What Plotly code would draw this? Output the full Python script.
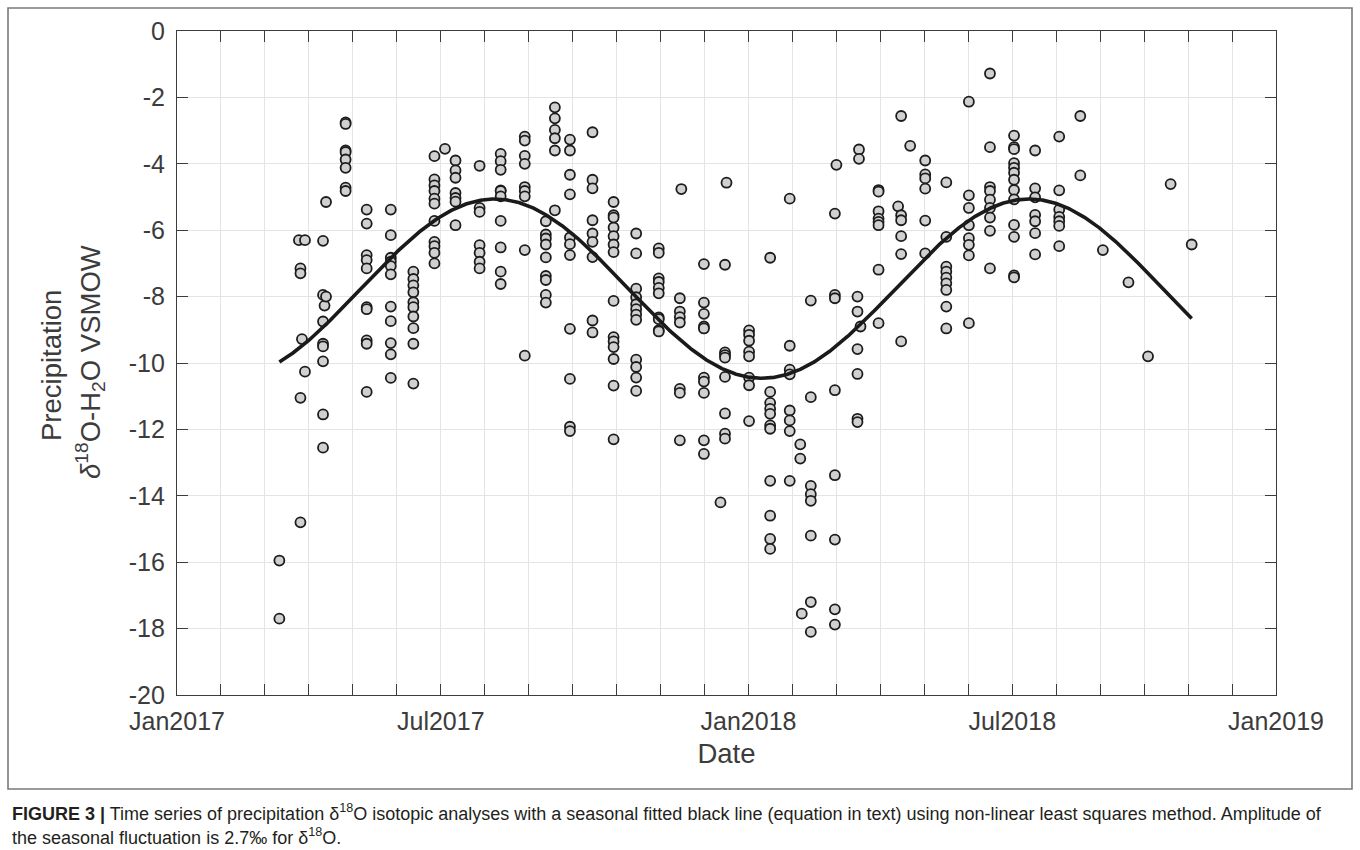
import numpy as np
import pandas as pd
import plotly.graph_objects as go

# Precipitation collection dates and number of samples analysed on each date
collection_date = [
    "2017-03-10", "2017-03-23", "2017-03-24", "2017-03-25", "2017-03-27",
    "2017-04-08", "2017-04-09", "2017-04-10", "2017-04-23", "2017-05-07",
    "2017-05-23", "2017-06-07", "2017-06-21", "2017-06-28", "2017-07-05",
    "2017-07-21", "2017-08-04", "2017-08-20", "2017-09-03", "2017-09-09",
    "2017-09-19", "2017-10-04", "2017-10-18", "2017-11-02", "2017-11-17",
    "2017-12-01", "2017-12-02", "2017-12-17", "2017-12-28", "2017-12-31",
    "2018-01-01", "2018-01-16", "2018-01-30", "2018-02-12", "2018-02-19",
    "2018-02-20", "2018-02-26", "2018-03-14", "2018-03-15", "2018-03-29",
    "2018-03-30", "2018-03-31", "2018-04-12", "2018-04-25", "2018-04-27",
    "2018-05-03", "2018-05-13", "2018-05-27", "2018-06-11", "2018-06-25",
    "2018-07-11", "2018-07-25", "2018-08-10", "2018-08-24", "2018-09-08",
    "2018-09-25", "2018-10-08", "2018-10-23", "2018-11-06",
]
n_samples = [
    2, 1, 4, 1, 2,
    8, 1, 2, 8, 10,
    11, 10, 11, 1, 7,
    7, 10, 9, 9, 6,
    11, 9, 14, 12, 10,
    7, 1, 10, 1, 8,
    1, 8, 11, 8, 2,
    1, 8, 8, 1, 6,
    2, 1, 8, 1, 6,
    1, 6, 9, 8, 9,
    13, 7, 7, 2, 1,
    1, 1, 1, 1,
]

# delta-18O of precipitation (permil VSMOW), in the same order as the dates
d18o = [
    -15.95, -17.7,
    -6.3,
    -7.15, -7.3, -11.05, -14.8,
    -9.28,
    -6.3, -10.26,
    -6.32, -7.95, -8.75, -9.42, -9.5, -9.95, -11.55, -12.55,
    -8.27,
    -5.15, -8.0,
    -2.75, -2.8, -3.6, -3.65, -3.87, -4.12, -4.72, -4.82,
    -5.38, -5.8, -6.75, -6.9, -7.15, -8.32, -8.38, -9.32, -9.42, -10.87,
    -5.38, -6.15, -6.83, -6.95, -7.08, -7.33, -8.3, -8.74, -9.4, -9.74, -10.45,
    -7.25, -7.47, -7.66, -7.87, -8.17, -8.32, -8.6, -8.95, -9.42, -10.62,
    -3.77, -4.47, -4.65, -4.82, -5.05, -5.2, -5.72, -6.35, -6.48, -6.68, -7.0,
    -3.55,
    -3.9, -4.2, -4.42, -4.88, -5.03, -5.14, -5.85,
    -4.06, -5.33, -5.45, -6.45, -6.68, -6.95, -7.15,
    -3.7, -3.92, -4.18, -4.8, -4.82, -4.98, -5.72, -6.52, -7.25, -7.62,
    -3.18, -3.3, -3.76, -4.0, -4.7, -4.82, -4.98, -6.6, -9.78,
    -5.73, -6.13, -6.25, -6.43, -6.82, -7.38, -7.5, -7.95, -8.18,
    -2.3, -2.63, -2.98, -3.23, -3.6, -5.4,
    -3.27, -3.6, -4.33, -4.92, -6.22, -6.42, -6.75, -8.97, -10.48, -11.92, -12.05,
    -3.05, -4.48, -4.74, -5.7, -6.1, -6.35, -6.81, -8.72, -9.08,
    -5.15, -5.55, -5.62, -5.92, -6.18, -6.43, -6.66, -8.13, -9.22, -9.35, -9.52, -9.88, -10.68, -12.3,
    -6.1, -6.7, -7.76, -8.02, -8.23, -8.38, -8.54, -8.7, -9.9, -10.12, -10.44, -10.84,
    -6.55, -6.68, -7.45, -7.56, -7.74, -7.9, -8.63, -8.68, -9.01, -9.05,
    -8.05, -8.45, -8.62, -8.78, -10.78, -10.9, -12.33,
    -4.76,
    -7.02, -8.18, -8.52, -8.9, -8.96, -10.44, -10.56, -10.9, -12.33, -12.74,
    -14.2,
    -7.04, -9.68, -9.76, -9.84, -10.42, -11.52, -12.13, -12.28,
    -4.57,
    -9.02, -9.15, -9.33, -9.66, -9.8, -10.44, -10.67, -11.75,
    -6.83, -10.87, -11.2, -11.38, -11.53, -11.88, -11.98, -13.55, -14.6, -15.3, -15.6,
    -5.05, -9.48, -10.2, -10.34, -11.43, -11.73, -12.05, -13.55,
    -12.45, -12.88,
    -17.55,
    -8.12, -11.03, -13.7, -13.95, -14.15, -15.2, -17.2, -18.1,
    -5.5, -7.95, -8.05, -10.82, -13.38, -15.32, -17.42, -17.88,
    -4.03,
    -8.0, -8.45, -9.58, -10.33, -11.68, -11.78,
    -3.57, -3.85,
    -8.9,
    -4.79, -4.84, -5.43, -5.65, -5.75, -5.85, -7.19, -8.8,
    -5.28,
    -2.56, -5.55, -5.7, -6.18, -6.72, -9.35,
    -3.46,
    -3.9, -4.32, -4.44, -4.75, -5.71, -6.7,
    -4.56, -6.2, -7.1, -7.25, -7.43, -7.6, -7.8, -8.3, -8.96,
    -2.13, -4.95, -5.33, -5.85, -6.24, -6.44, -6.76, -8.8,
    -1.28, -3.5, -4.7, -4.82, -5.08, -5.33, -5.62, -6.02, -7.15,
    -3.15, -3.5, -3.56, -3.98, -4.12, -4.27, -4.48, -4.79, -5.07, -5.84, -6.2, -7.36, -7.42,
    -3.6, -4.74, -5.01, -5.54, -5.73, -6.09, -6.73,
    -3.18, -4.8, -5.38, -5.6, -5.73, -5.87, -6.48,
    -2.56, -4.35,
    -6.6,
    -7.57,
    -9.8,
    -4.61,
    -6.43,
]
assert sum(n_samples) == len(d18o)

# Seasonal sine fit (non-linear least squares): mean, amplitude, period, date of maximum
fit_mean = -7.76
fit_amplitude = 2.7
fit_period_days = 355.0
fit_peak_date = "2017-07-31"

# Axis ticks
x_tick_text = (["Jan2017"] + [""] * 5 + ["Jul2017"] + [""] * 6 + ["Jan2018"]
               + [""] * 5 + ["Jul2018"] + [""] * 5 + ["Jan2019"])
y_tick_vals = [0, -2, -4, -6, -8, -10, -12, -14, -16, -18, -20]
y_tick_text = ["0", "-2", "-4", "-6", "-8", "-10", "-12", "-14", "-16", "-18", "-20"]

x_start, x_end = "2017-01-01", "2019-01-01"

sample_dates = pd.to_datetime(np.repeat(collection_date, n_samples))

fit_dates = pd.date_range(collection_date[0], collection_date[-1], freq="12h")
phase = (fit_dates - pd.Timestamp(fit_peak_date)) / pd.Timedelta(days=1)
fit_values = fit_mean + fit_amplitude * np.cos(2 * np.pi * phase / fit_period_days)

x_tick_vals = pd.date_range(x_start, x_end, periods=len(x_tick_text))

FONT = "Liberation Sans, Arial, Helvetica, sans-serif"
AXIS_COLOR = "#3c3c3c"
GRID_COLOR = "#e4e4e4"

fig = go.Figure()
fig.add_trace(go.Scatter(
    x=sample_dates, y=d18o, mode="markers",
    marker=dict(size=10, color="#d0d0d0",
                line=dict(color="#1c1c1c", width=1.8)),
    showlegend=False,
))
fig.add_trace(go.Scatter(
    x=fit_dates, y=fit_values, mode="lines",
    line=dict(color="#1a1a1a", width=3.6),
    showlegend=False,
))

L, R, T, B = 177, 84, 31, 155
W, H = 1360, 850
pw, ph = W - L - R, H - T - B


def px_x(x):
    return (x - L) / pw


def px_y(y):
    return (H - B - y) / ph


axis_common = dict(
    showline=True, linecolor=AXIS_COLOR, linewidth=1.2, mirror="ticks",
    ticks="inside", ticklen=11, tickwidth=1.2, tickcolor=AXIS_COLOR,
    showgrid=True, gridcolor=GRID_COLOR, gridwidth=1, zeroline=False,
    tickfont=dict(family=FONT, size=25, color=AXIS_COLOR),
)

fig.update_xaxes(
    type="date", range=[x_start, x_end],
    tickmode="array", tickvals=x_tick_vals, ticktext=x_tick_text,
    ticklabelstandoff=4,
    title=dict(text="Date", font=dict(family=FONT, size=27.5, color=AXIS_COLOR),
               standoff=9),
    **axis_common,
)
fig.update_yaxes(
    range=[-20, 0], tickmode="array", tickvals=y_tick_vals, ticktext=y_tick_text,
    ticklabelstandoff=6,
    **axis_common,
)

# y-axis title on two lines
fig.add_annotation(
    text="Precipitation", textangle=-90, showarrow=False,
    xref="paper", yref="paper", x=px_x(51), y=px_y(366),
    xanchor="center", yanchor="middle",
    font=dict(family=FONT, size=27.5, color=AXIS_COLOR),
)
fig.add_annotation(
    text="<i>δ</i><sup>18</sup>O-H<sub>2</sub>O VSMOW", textangle=-90, showarrow=False,
    xref="paper", yref="paper", x=px_x(90), y=px_y(362),
    xanchor="center", yanchor="middle",
    font=dict(family=FONT, size=27.5, color=AXIS_COLOR),
)

# Figure frame
fig.add_shape(
    type="rect", xref="paper", yref="paper",
    x0=px_x(8), x1=px_x(1352), y0=px_y(789), y1=px_y(8),
    line=dict(color="#7a7a7a", width=1.6), fillcolor="rgba(0,0,0,0)",
    layer="below",
)

# Caption
CAP_FONT = dict(family=FONT, size=18, color="#231f20")
fig.add_annotation(
    text=("<b>FIGURE 3 |</b> Time series of precipitation δ<sup>18</sup>O isotopic analyses "
          "with a seasonal fitted black line (equation in text) using non-linear least "
          "squares method. Amplitude of"),
    showarrow=False, xref="paper", yref="paper",
    x=px_x(10), y=px_y(812), xanchor="left", yanchor="middle", align="left",
    font=CAP_FONT,
)
fig.add_annotation(
    text="the seasonal fluctuation is 2.7‰ for δ<sup>18</sup>O.",
    showarrow=False, xref="paper", yref="paper",
    x=px_x(10), y=px_y(836), xanchor="left", yanchor="middle", align="left",
    font=CAP_FONT,
)

fig.update_layout(
    width=W, height=H,
    margin=dict(l=L, r=R, t=T, b=B),
    paper_bgcolor="white", plot_bgcolor="white",
)

fig.write_html("out.html")
